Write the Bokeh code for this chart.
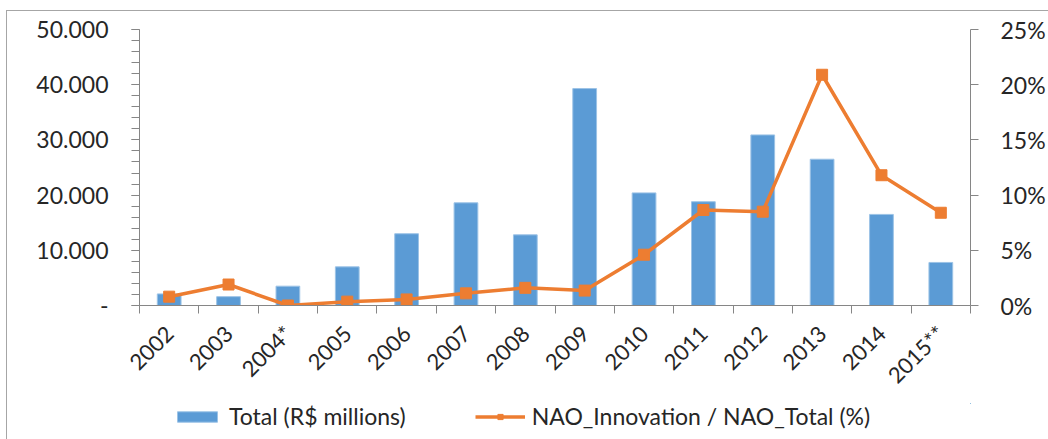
import math
from bokeh.plotting import figure
from bokeh.layouts import column
from bokeh.models import (Range1d, LinearAxis, FixedTicker, Legend, LegendItem)
from bokeh.embed import file_html
from bokeh.resources import INLINE

# ---- data ----
categories = ["2002", "2003", "2004*", "2005", "2006", "2007", "2008",
              "2009", "2010", "2011", "2012", "2013", "2014", "2015**"]
total_rs_millions = [2100, 1600, 3500, 7000, 13000, 18600, 12800,
                     39300, 20400, 18800, 30900, 26500, 16500, 7800]
nao_ratio_pct = [0.8, 1.9, 0.0, 0.35, 0.55, 1.1, 1.6,
                 1.35, 4.6, 8.65, 8.5, 20.9, 11.8, 8.4]
left_ticks = [0, 10000, 20000, 30000, 40000, 50000]
right_ticks = [0, 5, 10, 15, 20, 25]
legend_labels = ["Total (R$ millions)", "NAO_Innovation / NAO_Total (%)"]

BLUE = "#5B9BD5"
ORANGE = "#ED7D31"
AXIS = "#868686"
TXT = "#262626"
FONT = "Lato"

xs = list(range(1, len(categories) + 1))

p = figure(width=1041, height=392, output_backend="svg", toolbar_location=None,
           x_range=Range1d(0.5, len(categories) + 0.5),
           y_range=Range1d(0, 50000),
           min_border_left=132, min_border_right=73,
           min_border_top=18, min_border_bottom=98)
p.outline_line_color = None
p.xgrid.visible = False
p.ygrid.visible = False
p.extra_y_ranges = {"pct": Range1d(0, 25)}

p.vbar(x=xs, top=total_rs_millions, width=0.4, fill_color=BLUE,
       line_color="#9cc3e6", line_width=1)
p.line(xs, nao_ratio_pct, y_range_name="pct", line_color=ORANGE, line_width=3.5)
p.scatter(xs, nao_ratio_pct, y_range_name="pct", marker="square", size=11,
          fill_color=ORANGE, line_color=ORANGE)

# x axis
xa = p.xaxis[0]
xa.ticker = FixedTicker(ticks=xs, minor_ticks=[x - 0.5 for x in xs] + [xs[-1] + 0.5])
xa.major_label_overrides = {x: c for x, c in zip(xs, categories)}
xa.major_tick_line_color = None
xa.minor_tick_line_color = AXIS
xa.minor_tick_out = 8
xa.minor_tick_in = 0
xa.axis_line_color = AXIS
xa.major_label_orientation = math.pi / 4
xa.major_label_text_font = FONT
xa.major_label_text_font_size = "22px"
xa.major_label_text_color = TXT
xa.major_label_standoff = 16

# left axis
ya = p.yaxis[0]
ya.ticker = FixedTicker(ticks=left_ticks, minor_ticks=list(range(0, 50001, 2000)))
ya.major_label_overrides = {v: ("-" if v == 0 else f"{v:,}".replace(",", ".")) for v in left_ticks}
ya.axis_line_color = AXIS
ya.major_tick_line_color = AXIS
ya.minor_tick_line_color = AXIS
ya.major_tick_out = 8
ya.major_tick_in = 0
ya.minor_tick_out = 8
ya.minor_tick_in = 0
ya.major_label_text_font = FONT
ya.major_label_text_font_size = "23px"
ya.major_label_text_color = TXT
ya.major_label_standoff = 23

# right axis
ra = LinearAxis(y_range_name="pct", ticker=FixedTicker(ticks=right_ticks))
ra.major_label_overrides = {v: f"{v}%" for v in right_ticks}
ra.axis_line_color = AXIS
ra.major_tick_line_color = AXIS
ra.major_tick_out = 8
ra.major_tick_in = 0
ra.minor_tick_line_color = None
ra.major_label_text_font = FONT
ra.major_label_text_font_size = "23px"
ra.major_label_text_color = TXT
ra.major_label_standoff = 22
p.add_layout(ra, "right")

# legend strip (separate figure so the legend is not clipped by the plot frame);
# its renderers use the same data but lie outside this strip's ranges
lf = figure(width=1041, height=36, output_backend="svg", toolbar_location=None,
            x_range=Range1d(-3, -2), y_range=Range1d(-3, -2),
            x_axis_type=None, y_axis_type=None,
            min_border_left=0, min_border_right=0, min_border_top=0, min_border_bottom=0)
lf.outline_line_color = None
lf.xgrid.visible = False
lf.ygrid.visible = False
lb = lf.vbar(x=xs, top=total_rs_millions, width=0.4, fill_color=BLUE,
             line_color="#9cc3e6", line_width=1)
ll = lf.line(xs, nao_ratio_pct, line_color=ORANGE, line_width=3.5)
lp = lf.scatter(xs, nao_ratio_pct, marker="square", size=11, fill_color=ORANGE, line_color=ORANGE)

legend = Legend(items=[LegendItem(label=legend_labels[0], renderers=[lb]),
                       LegendItem(label=legend_labels[1], renderers=[ll, lp])],
                orientation="horizontal", location=(33, 9),
                glyph_width=50, glyph_height=13, label_standoff=7, spacing=69,
                label_height=22, label_text_line_height=1.0,
                padding=0, margin=0, border_line_color=None, background_fill_alpha=0,
                label_text_font=FONT, label_text_font_size="23px", label_text_color=TXT)
lf.add_layout(legend, "center")

layout = column(p, lf, spacing=0,
                styles={"border-left": "1px solid #a6a6a6",
                        "border-top": "1px solid #a6a6a6",
                        "margin-left": "6px", "margin-top": "10px"})

open("out.html", "w").write(file_html(layout, INLINE))
